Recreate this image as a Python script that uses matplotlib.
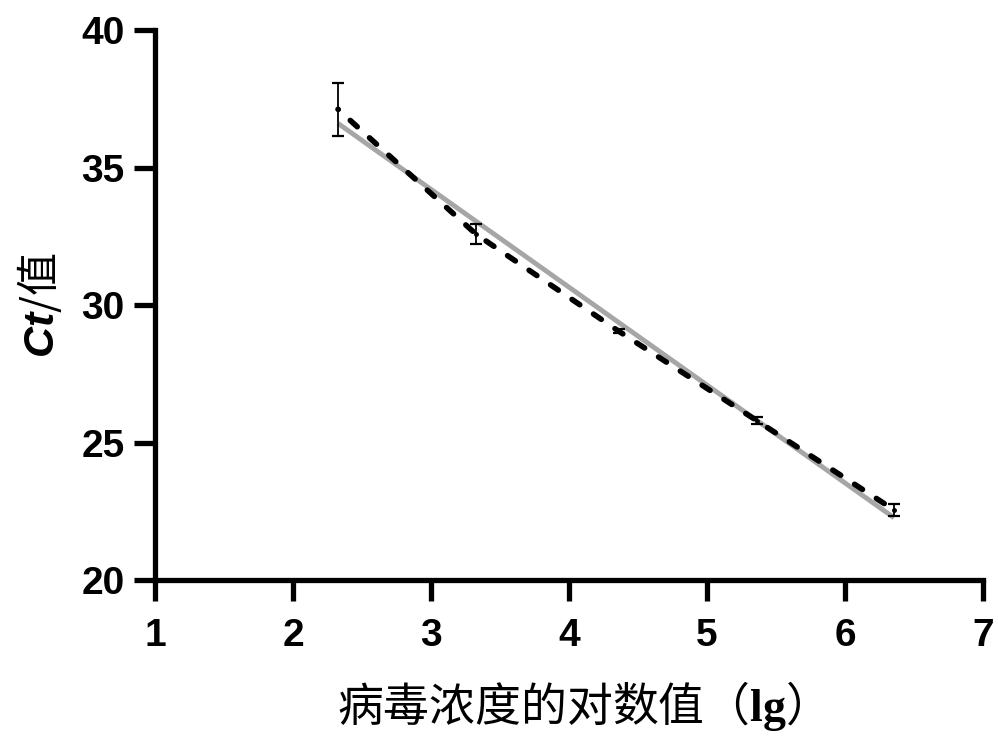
import numpy as np
import matplotlib
matplotlib.use("Agg")
import matplotlib.pyplot as plt

plt.rcParams['font.family'] = ['Liberation Sans', 'Noto Sans CJK SC', 'DejaVu Sans']
plt.rcParams['mathtext.fontset'] = 'custom'
plt.rcParams['mathtext.it'] = 'Liberation Sans:italic:bold'
plt.rcParams['mathtext.bf'] = 'Liberation Serif:bold'
plt.rcParams['lines.scale_dashes'] = False

# data
log_conc = [2.326, 3.326, 4.36, 5.36, 6.355]
ct_mean = [37.12, 32.58, 29.05, 25.8, 22.55]
ct_err = [0.97, 0.37, 0.08, 0.12, 0.22]

x_ticks = [1, 2, 3, 4, 5, 6, 7]
y_ticks = [20, 25, 30, 35, 40]

fig = plt.figure(figsize=(9.98, 7.53), dpi=100)
ax = fig.add_axes([0.1553, 0.2297, 0.985 - 0.1553, 0.960 - 0.2297])

# linear fit (grey)
k, b = np.polyfit(log_conc, ct_mean, 1)
xf = np.array([log_conc[0], log_conc[-1]])
ax.plot(xf, k * xf + b, color='#a6a6a6', lw=3.5, solid_capstyle='butt', zorder=2)

# connecting line through the means (dashed)
on, off = 6.8, 11.9
ax.plot(log_conc, ct_mean, color='black', lw=4.0, linestyle=(on, (on, off)),
        dash_capstyle='round', zorder=3)

ax.errorbar(log_conc, ct_mean, yerr=ct_err, fmt='o', ms=2.5, color='black',
            ecolor='black', elinewidth=1.3, capsize=4, capthick=1.6, zorder=4)

ax.set_xlim(1, 7)
ax.set_ylim(20, 40)
ax.set_xticks(x_ticks)
ax.set_yticks(y_ticks)

for side in ['top', 'right']:
    ax.spines[side].set_visible(False)
for side in ['left', 'bottom']:
    ax.spines[side].set_linewidth(3.8)

ax.tick_params(axis='both', direction='out', length=15, width=3.8, labelsize=28)
ax.tick_params(axis='x', pad=12)
ax.tick_params(axis='y', pad=7)
for lab in ax.get_xticklabels() + ax.get_yticklabels():
    lab.set_fontweight('bold')

ax.set_ylabel(r"$Ct$/值", fontsize=31, family=['Noto Sans CJK SC', 'DejaVu Sans'], labelpad=12)
ax.set_xlabel(r"病毒浓度的对数值（$\mathbf{lg}$）", fontsize=33,
              family=['Noto Sans CJK SC', 'DejaVu Sans'], labelpad=18)

fig.savefig("out.png", dpi=100)
